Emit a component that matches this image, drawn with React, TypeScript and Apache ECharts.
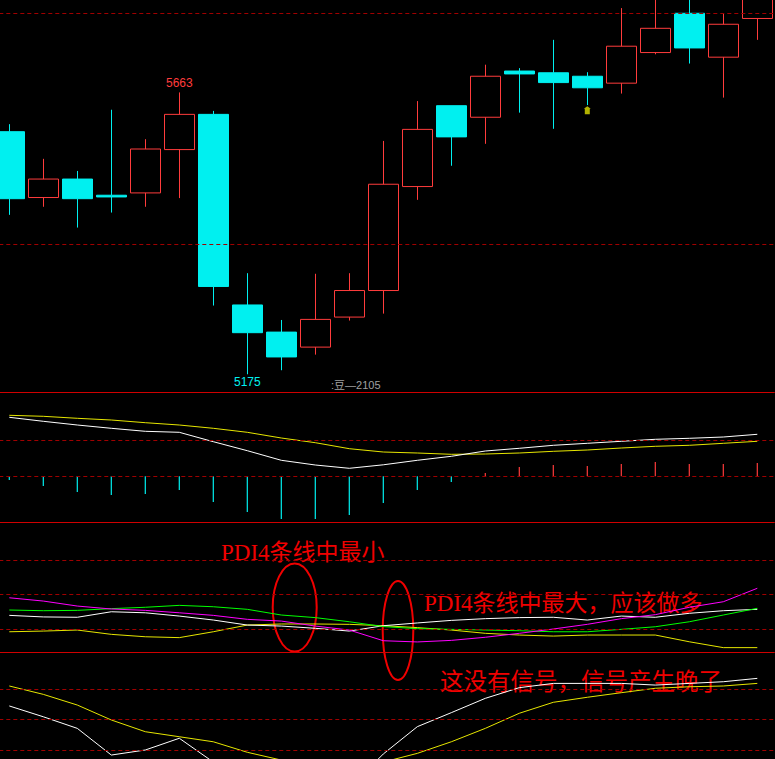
import React, { useEffect, useRef } from 'react';
import * as echarts from 'echarts';

// ---- data ----
const DAYS = ['1', '2', '3', '4', '5', '6', '7', '8', '9', '10', '11', '12', '13', '14', '15', '16', '17', '18', '19', '20', '21', '22', '23'];

const OPEN = [5595, 5481, 5513, 5485, 5489, 5564, 5625, 5295, 5248, 5222, 5274, 5320, 5500, 5640, 5620, 5700, 5697, 5691, 5679, 5732, 5800, 5724, 5791];
const CLOSE = [5479, 5513, 5479, 5482, 5565, 5625, 5327, 5247, 5205, 5270, 5320, 5504, 5599, 5586, 5691, 5695, 5680, 5671, 5743, 5774, 5740, 5781, 5840];
const LOW = [5451, 5465, 5429, 5455, 5465, 5480, 5294, 5175, 5182, 5209, 5268, 5280, 5477, 5536, 5574, 5628, 5600, 5641, 5661, 5729, 5713, 5654, 5754];
const HIGH = [5608, 5548, 5527, 5633, 5582, 5663, 5631, 5350, 5269, 5349, 5350, 5579, 5648, 5640, 5711, 5705, 5754, 5698, 5809, 5835, 5845, 5799, 5860];

const HIGH_LABEL_INDEX = 5;
const LOW_LABEL_INDEX = 7;
const SIGNAL_INDEX = [17];
const SIGNAL_PRICE = [5632];

const DIF = [59, 55, 51.3, 48, 45, 44, 34.6, 25.6, 16, 11.3, 8, 11.5, 16, 20, 25.3, 28, 31, 33, 35, 37, 38, 39.3, 42];
const DEA = [61, 60, 58, 56.3, 53.6, 51.3, 48, 44, 38.3, 33.6, 27.6, 24.3, 23.3, 22, 22.3, 23.3, 25, 26.3, 28.3, 30, 31, 33, 35];
const MACD = [-3.7, -9.7, -15.7, -18.7, -17.7, -13.7, -25.7, -35.7, -42.7, -42.7, -38.7, -26.7, -13.7, -5.7, 3.3, 9.3, 11.3, 10.3, 12.3, 14.3, 12.3, 12.3, 13.3];

const PDI = [38.1, 36.2, 33.3, 31.6, 30.8, 29.4, 27.9, 25.6, 24.6, 21.7, 19.4, 13.2, 12.5, 13.4, 15.2, 17.5, 20, 22.7, 26, 28.3, 32.6, 35.8, 43.6];
const MDI = [31, 30.6, 30.8, 31.8, 32.6, 33.7, 32.9, 31.4, 28.1, 26.6, 24.2, 21.4, 20.2, 19.8, 19.4, 19, 18.4, 18.4, 19.8, 21.3, 24.2, 28.1, 32];
const ADX = [27.9, 27, 26.8, 30, 29.4, 27.5, 25.2, 22.3, 21.7, 20.4, 18.8, 21.9, 23.5, 25, 26, 26.6, 26.8, 25.2, 27.5, 26.8, 29.1, 30.6, 31.4];
const ADXR = [18.4, 18.8, 19.4, 16.9, 15.5, 15, 18.4, 22.3, 22.9, 22.9, 22.7, 21.9, 20.8, 19.4, 17.5, 16.5, 15.9, 16.5, 16.5, 16.5, 12.6, 9.2, 9.2];

const IND_WHITE = [48.9, 41.8, 34.2, 16.7, 20, 27.7, 12.1, -3, -9.5, -11.5, -4.9, 17.4, 35.3, 44.5, 53.9, 60.9, 63.7, 63.7, 63.7, 62.6, 63.7, 64.8, 67];
const IND_YELLOW = [62, 56.5, 49.5, 39.7, 32, 28.7, 25.4, 18.5, 13.4, 9.5, 8.9, 12.1, 17.8, 25.4, 34.2, 44.1, 51.3, 54.6, 57.6, 60.5, 61.5, 62, 63.7];

const PRICE_GRID = [5400, 5800];
const MACD_GRID = [0, 36];
const DMI_GRID = [20, 40, 60];
const IND_GRID = [20, 40, 60];

// ---- styles ----
const RED = '#ff3c3c';
const CYAN = '#00f0f0';
const SEP = '#d00000';
const DASH = '#a00000';
const YELLOW = '#e6e600';
const ANN = '#f00000';
const SHIFT = 8; // container starts 8px left of the page

const dashed = (vals: number[]) => ({
  silent: true,
  symbol: ['none', 'none'],
  label: { show: false },
  lineStyle: { color: DASH, type: [4, 3], width: 1 },
  emphasis: { disabled: true },
  data: vals.map((v) => ({ yAxis: v })),
});

const line = (data: number[], grid: number, color: string, extra: any = {}) => ({
  type: 'line',
  xAxisIndex: grid,
  yAxisIndex: grid,
  data,
  symbol: 'none',
  showSymbol: false,
  clip: true,
  lineStyle: { color, width: 1 },
  emphasis: { disabled: true },
  ...extra,
});

export default function App() {
  const ref = useRef<HTMLDivElement>(null);
  useEffect(() => {
    const chart = echarts.init(ref.current!, null, { renderer: 'svg' });
    const L = SHIFT - 7.7;
    const W = 782;
    const grids = [
      { top: 0, height: 392 },
      { top: 392, height: 130 },
      { top: 522, height: 130 },
      { top: 652, height: 107 },
    ];
    const ranges = [
      [5144.3, 5823],
      [-45.7, 84.3],
      [6.667, 82.03],
      [14.1, 84.3],
    ];
    const font = '"Liberation Serif", "Noto Sans CJK SC", serif';
    const option: any = {
      animation: false,
      backgroundColor: '#000',
      grid: grids.map((g) => ({ left: L, width: W, top: g.top, height: g.height })),
      xAxis: grids.map((_, i) => ({
        type: 'category',
        gridIndex: i,
        data: DAYS,
        axisLine: { show: i < 3, onZero: false, lineStyle: { color: SEP, width: 1 } },
        axisTick: { show: false },
        axisLabel: { show: false },
        splitLine: { show: false },
      })),
      yAxis: grids.map((_, i) => ({
        type: 'value',
        gridIndex: i,
        min: ranges[i][0],
        max: ranges[i][1],
        axisLine: { show: false },
        axisTick: { show: false },
        axisLabel: { show: false },
        splitLine: { show: false },
      })),
      series: [
        {
          type: 'candlestick',
          xAxisIndex: 0,
          yAxisIndex: 0,
          data: OPEN.map((o, i) => [o, CLOSE[i], LOW[i], HIGH[i]]),
          barWidth: 30,
          clip: true,
          itemStyle: { color: '#000', color0: CYAN, borderColor: RED, borderColor0: CYAN, borderWidth: 1 },
          emphasis: { disabled: true },
          markPoint: {
            silent: true,
            symbol: 'circle',
            symbolSize: 1,
            itemStyle: { color: 'transparent' },
            label: { show: true, position: 'inside', fontSize: 12, fontFamily: '"Liberation Sans", Arial, sans-serif' },
            data: [
              {
                coord: [DAYS[HIGH_LABEL_INDEX], HIGH[HIGH_LABEL_INDEX]],
                value: HIGH[HIGH_LABEL_INDEX],
                label: { color: RED, offset: [0, -9] },
              },
              {
                coord: [DAYS[LOW_LABEL_INDEX], LOW[LOW_LABEL_INDEX]],
                value: LOW[LOW_LABEL_INDEX],
                label: { color: CYAN, offset: [0, 8] },
              },
            ],
          },
          markLine: dashed(PRICE_GRID),
        },
        {
          type: 'scatter',
          xAxisIndex: 0,
          yAxisIndex: 0,
          data: SIGNAL_INDEX.map((i, k) => [DAYS[i], SIGNAL_PRICE[k]]),
          symbol: 'path://M3.5,0L7,2.5L6,2.5L6,8L1,8L1,2.5L0,2.5Z',
          symbolSize: [7, 8],
          itemStyle: { color: '#dede00' },
          emphasis: { disabled: true },
        },
        {
          type: 'bar',
          xAxisIndex: 1,
          yAxisIndex: 1,
          barWidth: 1.2,
          data: MACD.map((v) => ({ value: v, itemStyle: { color: v >= 0 ? RED : CYAN } })),
          emphasis: { disabled: true },
          markLine: dashed(MACD_GRID),
        },
        line(DEA, 1, YELLOW),
        line(DIF, 1, '#ffffff'),
        line(ADXR, 2, YELLOW, { markLine: dashed(DMI_GRID) }),
        line(ADX, 2, '#ffffff'),
        line(MDI, 2, '#00ff00'),
        line(PDI, 2, '#ff00ff'),
        line(IND_YELLOW, 3, YELLOW, { markLine: dashed(IND_GRID) }),
        line(IND_WHITE, 3, '#ffffff'),
      ],
      graphic: [
        {
          type: 'text',
          x: 331 + SHIFT,
          y: 385,
          silent: true,
          style: {
            text: ':豆—2105',
            fill: '#a0a0a0',
            fontSize: 11,
            fontFamily: '"Liberation Sans", "Noto Sans CJK SC", sans-serif',
            verticalAlign: 'middle',
          },
        },
        {
          type: 'ellipse',
          silent: true,
          shape: { cx: 294.7 + SHIFT, cy: 607.5, rx: 22, ry: 44 },
          style: { fill: 'none', stroke: ANN, lineWidth: 2 },
        },
        {
          type: 'ellipse',
          silent: true,
          shape: { cx: 398 + SHIFT, cy: 630.5, rx: 15.3, ry: 49.5 },
          style: { fill: 'none', stroke: ANN, lineWidth: 2 },
        },
        {
          type: 'text',
          x: 221 + SHIFT,
          y: 552,
          silent: true,
          style: { text: 'PDI4条线中最小', fill: ANN, fontSize: 23, fontFamily: font, verticalAlign: 'middle' },
        },
        {
          type: 'text',
          x: 424 + SHIFT,
          y: 603,
          silent: true,
          style: { text: 'PDI4条线中最大，应该做多', fill: ANN, fontSize: 23, fontFamily: font, verticalAlign: 'middle' },
        },
        {
          type: 'text',
          x: 440 + SHIFT,
          y: 682,
          silent: true,
          style: { text: '这没有信号，信号产生晚了', fill: ANN, fontSize: 23.5, fontFamily: font, verticalAlign: 'middle' },
        },
      ],
    };
    chart.setOption(option);
    return () => chart.dispose();
  }, []);
  return (
    <div
      ref={ref}
      style={{ position: 'absolute', left: -SHIFT, top: 0, width: 775 + SHIFT, height: 759, background: '#000' }}
    />
  );
}
